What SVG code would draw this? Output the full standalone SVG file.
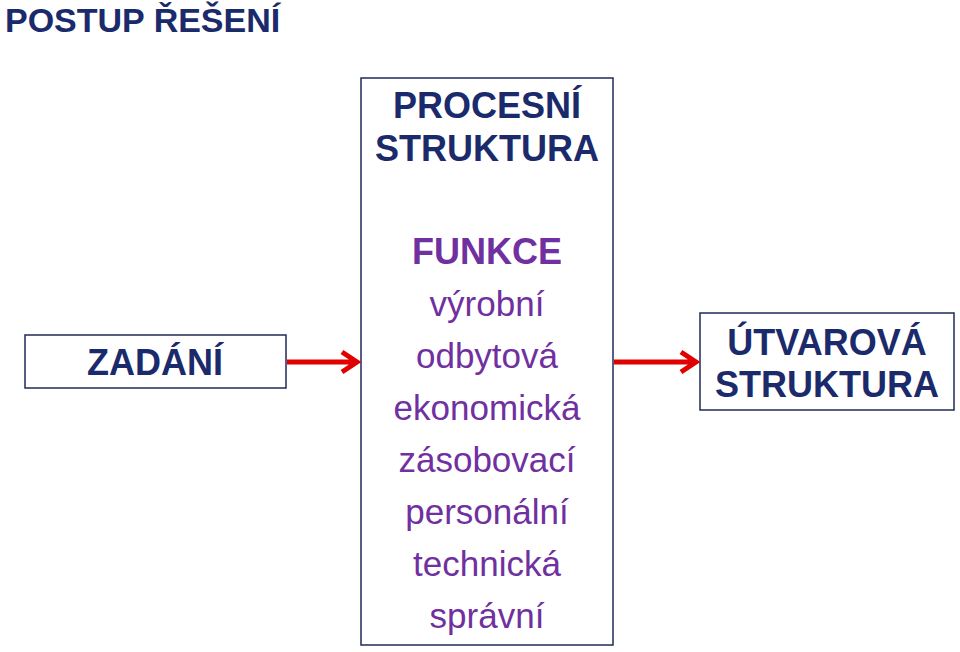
<svg xmlns="http://www.w3.org/2000/svg" width="960" height="652" viewBox="0 0 960 652">
<style>
.b{fill:#fff;stroke:#1f2a5a;stroke-width:1.5}
.t{font-family:"Liberation Sans",Arial,sans-serif;text-anchor:middle}
.n{fill:#1b2a6b;font-weight:bold}
.p{fill:#7030a0}
.a{stroke:#e00000;stroke-width:5;fill:none}
</style>
<rect width="960" height="652" fill="#fff"/>
<text x="5" y="32" class="t n" style="text-anchor:start" font-size="34">POSTUP ŘEŠENÍ</text>
<g id="zadani"><rect class="b" x="25" y="335" width="261" height="53"/>
<text class="t n" x="155" y="375" font-size="36">ZADÁNÍ</text></g>
<g id="procesni"><rect class="b" x="361" y="78" width="252" height="567"/>
<text class="t n" x="487" y="118" font-size="36">PROCESNÍ</text>
<text class="t n" x="487" y="161" font-size="36">STRUKTURA</text>
<text class="t p" x="487" y="264" font-size="36" font-weight="bold">FUNKCE</text>
<text class="t p" x="487" y="316" font-size="35">výrobní</text>
<text class="t p" x="487" y="368" font-size="35">odbytová</text>
<text class="t p" x="487" y="420" font-size="35">ekonomická</text>
<text class="t p" x="487" y="472" font-size="35">zásobovací</text>
<text class="t p" x="487" y="524" font-size="35">personální</text>
<text class="t p" x="487" y="576" font-size="35">technická</text>
<text class="t p" x="487" y="628" font-size="35">správní</text></g>
<g id="utvarova"><rect class="b" x="700" y="313" width="254" height="97"/>
<text class="t n" x="827" y="355" font-size="36">ÚTVAROVÁ</text>
<text class="t n" x="827" y="397" font-size="36">STRUKTURA</text></g>
<g id="connectors">
<path class="a" d="M287 362H357M342 352L357 362L342 372"/>
<path class="a" d="M614 362H696M681 352L696 362L681 372"/>
</g>
</svg>
